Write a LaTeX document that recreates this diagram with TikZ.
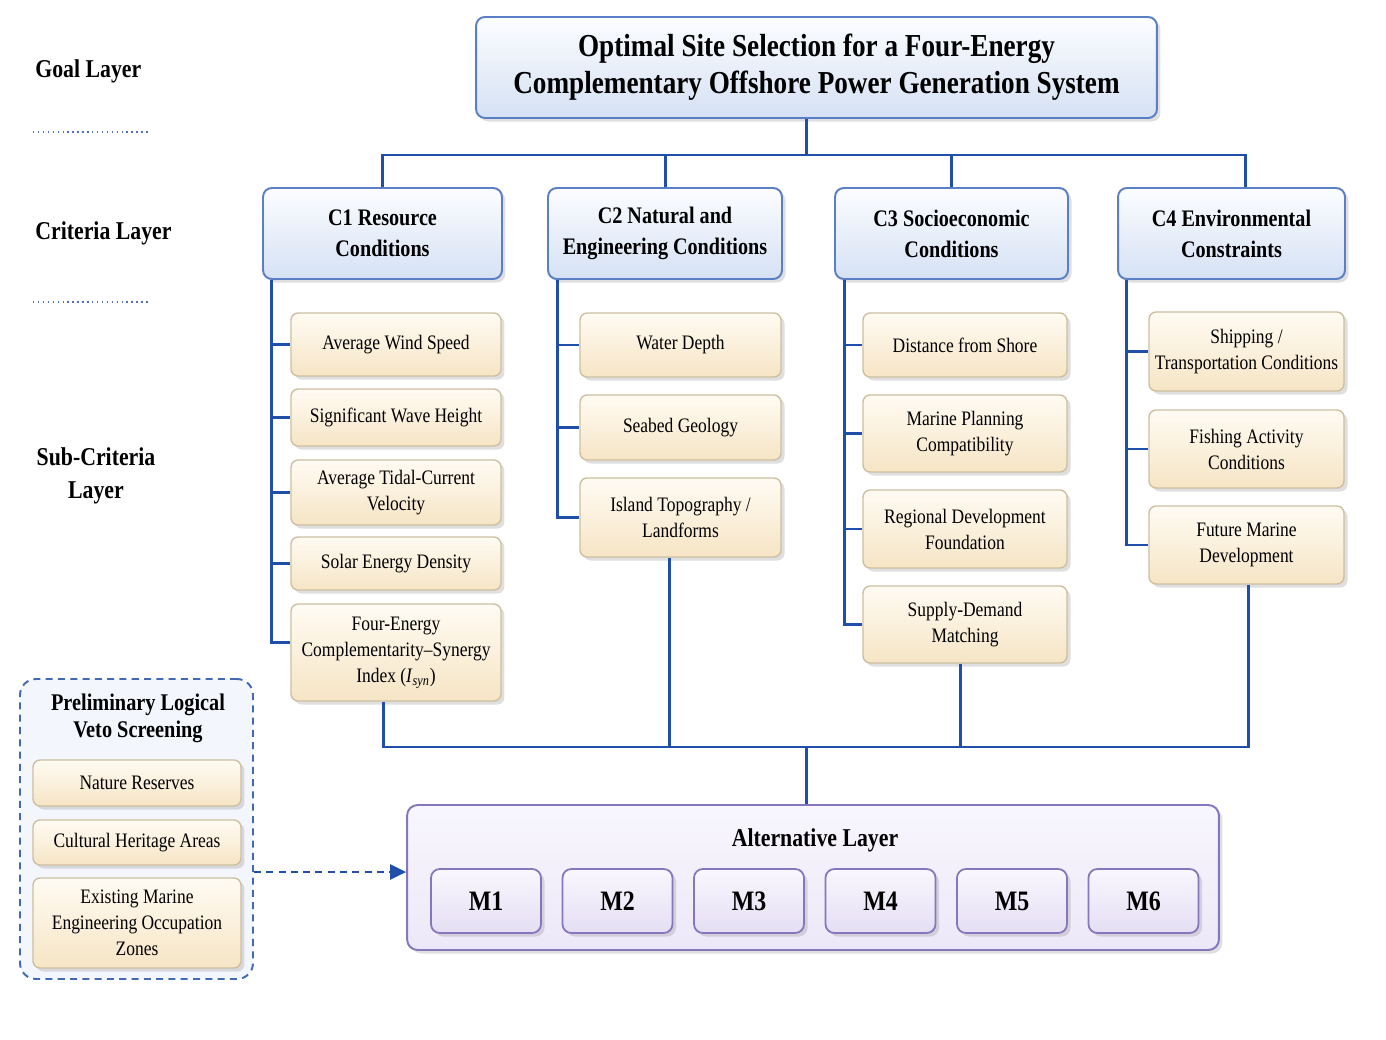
\documentclass[tikz,border=0pt]{standalone}
\usepackage{fontspec}
\setmainfont[FakeStretch=0.85]{Liberation Serif}
\usetikzlibrary{shadows,arrows.meta}

\definecolor{linkblue}{HTML}{1F4FA8}
\definecolor{critborder}{HTML}{5B7FC4}
\definecolor{crittop}{HTML}{FCFDFF}
\definecolor{critbottom}{HTML}{D5E1F4}
\definecolor{subborder}{HTML}{CDBF9F}
\definecolor{subtop}{HTML}{FFFBF3}
\definecolor{subbottom}{HTML}{F6E5C5}
\definecolor{altborder}{HTML}{8576BE}
\definecolor{alttop}{HTML}{F8F6FD}
\definecolor{altbottom}{HTML}{EDE8F8}
\definecolor{mtop}{HTML}{F9F7FE}
\definecolor{mbottom}{HTML}{E5DEF4}
\definecolor{vetofill}{HTML}{F3F6FD}

\tikzset{
  softshadow/.style={drop shadow={shadow xshift=2pt, shadow yshift=-2pt, opacity=0.25}},
  goalbox/.style={draw=critborder, line width=1.1pt, rounded corners=5pt,
    top color=crittop, bottom color=critbottom, softshadow, align=center,
    inner sep=0pt, font=\fontsize{18.2}{21}\selectfont\bfseries},
  critbox/.style={goalbox, minimum height=1.82cm,
    font=\fontsize{13.5}{17.6}\selectfont\bfseries},
  subbox/.style={draw=subborder, line width=0.8pt, rounded corners=4pt,
    top color=subtop, bottom color=subbottom, softshadow, align=center,
    inner sep=0pt, font=\fontsize{11.7}{14.8}\selectfont},
  altbox/.style={draw=altborder, line width=1.1pt, rounded corners=6pt,
    top color=alttop, bottom color=altbottom, softshadow, inner sep=0pt},
  mbox/.style={draw=altborder, line width=1pt, rounded corners=5pt,
    top color=mtop, bottom color=mbottom, softshadow, inner sep=0pt,
    minimum width=2.2cm, minimum height=1.28cm,
    font=\fontsize{16}{19}\selectfont\bfseries},
  vetobox/.style={draw=linkblue!85, line width=1.1pt, dash pattern=on 4pt off 3pt,
    rounded corners=9pt, fill=vetofill, inner sep=0pt},
  layerlabel/.style={align=center, inner sep=0pt, font=\fontsize{14.6}{18.8}\selectfont\bfseries},
  headlabel/.style={align=center, inner sep=0pt, font=\fontsize{13.6}{15.5}\selectfont\bfseries},
  layersep/.style={linkblue!80, line width=0.8pt, dotted},
  link/.style={linkblue, line width=1.7pt},
  vetoarrow/.style={->, linkblue, line width=1.3pt, dash pattern=on 4pt off 3pt},
}

\begin{document}
\begin{tikzpicture}[x=0.02cm, y=-0.02cm, >={Triangle[length=3.2mm,width=3mm]}]

    % --- Canvas ---
    \useasboundingbox (0,0) rectangle (1386,1040);

    % --- Layer labels ---
    \node[layerlabel, anchor=west] (goallbl) at (35,71) {Goal Layer};
    \node[layerlabel, anchor=west] (critlbl) at (35,233) {Criteria Layer};
    \node[layerlabel] (sublbl) at (96,476) {Sub-Criteria\\Layer};
    \coordinate (sepa) at (33,132); \coordinate (sepb) at (150,132);
    \coordinate (sepc) at (33,302); \coordinate (sepd) at (150,302);
    \draw[layersep] (sepa) -- (sepb);
    \draw[layersep] (sepc) -- (sepd);

    % --- Goal layer ---
    \node[goalbox, minimum width=13.62cm, minimum height=2.02cm] (goal) at (816.5,67.5)
        {Optimal Site Selection for a Four-Energy\\Complementary Offshore Power Generation System};

    % --- Criteria layer ---
    \node[critbox, minimum width=4.78cm] (c1) at (382.5,233.5) {C1 Resource\\Conditions};
    \node[critbox, minimum width=4.68cm] (c2) at (665,233.5) {C2 Natural and\\Engineering Conditions};
    \node[critbox, minimum width=4.66cm] (c3) at (951.5,233.5) {C3 Socioeconomic\\Conditions};
    \node[critbox, minimum width=4.54cm] (c4) at (1231.5,233.5) {C4 Environmental\\Constraints};

    % --- Sub-criteria: C1 ---
    \node[subbox, minimum width=4.2cm, minimum height=1.26cm] (s11) at (396,344.5) {Average Wind Speed};
    \node[subbox, minimum width=4.2cm, minimum height=1.14cm] (s12) at (396,417.5) {Significant Wave Height};
    \node[subbox, minimum width=4.2cm, minimum height=1.3cm] (s13) at (396,492.5) {Average Tidal-Current\\Velocity};
    \node[subbox, minimum width=4.2cm, minimum height=1.06cm] (s14) at (396,563.5) {Solar Energy Density};
    \node[subbox, minimum width=4.2cm, minimum height=1.94cm] (s15) at (396,652.5)
        {Four-Energy\\Complementarity--Synergy\\Index (\textit{I}\textsubscript{\textit{syn}})};

    % --- Sub-criteria: C2 ---
    \node[subbox, minimum width=4.02cm, minimum height=1.28cm] (s21) at (680.5,345) {Water Depth};
    \node[subbox, minimum width=4.02cm, minimum height=1.3cm] (s22) at (680.5,427.5) {Seabed Geology};
    \node[subbox, minimum width=4.02cm, minimum height=1.58cm] (s23) at (680.5,517.5) {Island Topography /\\Landforms};

    % --- Sub-criteria: C3 ---
    \node[subbox, minimum width=4.08cm, minimum height=1.28cm] (s31) at (965,345) {Distance from Shore};
    \node[subbox, minimum width=4.08cm, minimum height=1.54cm] (s32) at (965,433.5) {Marine Planning\\Compatibility};
    \node[subbox, minimum width=4.08cm, minimum height=1.56cm] (s33) at (965,529) {Regional Development\\Foundation};
    \node[subbox, minimum width=4.08cm, minimum height=1.54cm] (s34) at (965,624.5) {Supply-Demand\\Matching};

    % --- Sub-criteria: C4 ---
    \node[subbox, minimum width=3.9cm, minimum height=1.58cm] (s41) at (1246.5,351.5) {Shipping /\\Transportation Conditions};
    \node[subbox, minimum width=3.9cm, minimum height=1.56cm] (s42) at (1246.5,449) {Fishing Activity\\Conditions};
    \node[subbox, minimum width=3.9cm, minimum height=1.56cm] (s43) at (1246.5,545) {Future Marine\\Development};

    % --- Goal to criteria ---
    \coordinate (topbus) at (806,155);
    \coordinate (c4top) at ([xshift=0.27cm]c4.north);
    \draw[link] (goal.south -| topbus) -- (topbus);
    \draw[link] (c1.north) |- (topbus) -| (c4top);
    \draw[link] (c2.north) -- (c2.north |- topbus);
    \draw[link] (c3.north) -- (c3.north |- topbus);

    % --- Criteria to sub-criteria ---
    \coordinate (c1t) at ([xshift=0.18cm]c1.south west);
    \coordinate (c2t) at ([xshift=0.2cm]c2.south west);
    \coordinate (c3t) at ([xshift=0.2cm]c3.south west);
    \coordinate (c4t) at ([xshift=0.18cm]c4.south west);
    \draw[link] (c1t) |- ([yshift=0.2cm]s15.west);
    \foreach \s in {s11,s12,s13,s14}
        \draw[link] (c1t |- \s.west) -- (\s.west);
    \draw[link] (c2t) |- (s23.west);
    \foreach \s in {s21,s22}
        \draw[link] (c2t |- \s.west) -- (\s.west);
    \draw[link] (c3t) |- (s34.west);
    \foreach \s in {s31,s32,s33}
        \draw[link] (c3t |- \s.west) -- (\s.west);
    \draw[link] (c4t) |- (s43.west);
    \foreach \s in {s41,s42}
        \draw[link] (c4t |- \s.west) -- (\s.west);

    % --- Alternative layer ---
    \node[altbox, minimum width=16.24cm, minimum height=2.9cm] (alt) at (813,877.5) {};
    \node[layerlabel] (altlbl) at (815,840) {Alternative Layer};
    \foreach \i in {1,...,6} {
        \pgfmathsetmacro{\xc}{486+(\i-1)*131.5}
        \node[mbox] (m\i) at (\xc,901) {M\i};
    }

    % --- Sub-criteria to alternatives ---
    \coordinate (botbus) at (806,747);
    \coordinate (b1) at ([xshift=-0.26cm]s15.south);
    \coordinate (b2) at ([xshift=-0.23cm]s23.south);
    \coordinate (b3) at ([xshift=-0.1cm]s34.south);
    \coordinate (b4) at ([xshift=0.03cm]s43.south);
    \draw[link] (b1) |- (botbus) -| (b4);
    \draw[link] (b2) -- (b2 |- botbus);
    \draw[link] (b3) -- (b3 |- botbus);
    \draw[link] (botbus) -- (botbus |- alt.north);

    % --- Veto screening ---
    \node[vetobox, minimum width=4.66cm, minimum height=6cm] (veto) at (136.5,829) {};
    \node[headlabel] (vetolbl) at (138,718) {Preliminary Logical\\Veto Screening};
    \node[subbox, minimum width=4.16cm, minimum height=0.92cm] (v1) at (137,783) {Nature Reserves};
    \node[subbox, minimum width=4.16cm, minimum height=0.9cm] (v2) at (137,842.5) {Cultural Heritage Areas};
    \node[subbox, minimum width=4.16cm, minimum height=1.8cm] (v3) at (137,923) {Existing Marine\\Engineering Occupation\\Zones};

    % --- Veto to alternatives ---
    \coordinate (vetoy) at (0,872);
    \draw[vetoarrow] (veto.east |- vetoy) -- (alt.west |- vetoy);

\end{tikzpicture}
\end{document}
